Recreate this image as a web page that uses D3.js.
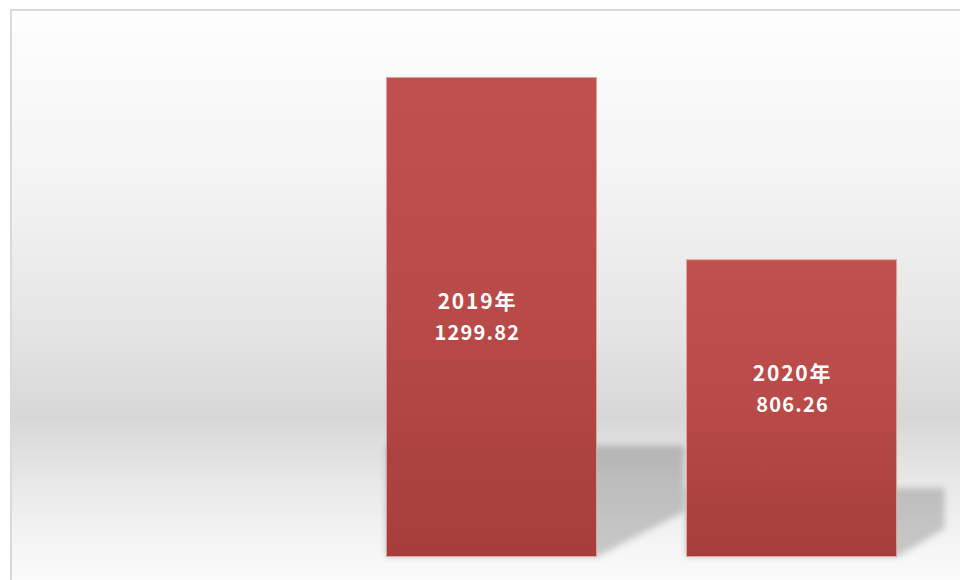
<!DOCTYPE html>
<html>
<head>
<meta charset="utf-8">
<script src="https://cdn.jsdelivr.net/npm/d3@7"></script>
<style>
  html, body { margin: 0; padding: 0; background: #ffffff; }
  svg { display: block; }
</style>
</head>
<body>
<svg id="chart" width="960" height="580"></svg>
<script>
// ---- data ----
const categories = ["2019年", "2020年"];
const values = [1299.82, 806.26];
const valueLabels = ["1299.82", "806.26"];

// ---- layout ----
const W = 960, H = 580;
const svg = d3.select("#chart");
const defs = svg.append("defs");

// background gradient
const bg = defs.append("linearGradient").attr("id", "bgGrad")
  .attr("x1", 0).attr("y1", 0).attr("x2", 0).attr("y2", 1);
[[0, "#fefefe"], [0.3, "#f3f3f3"], [0.55, "#e4e4e4"], [0.69, "#d7d7d7"],
 [0.8, "#e8e8e8"], [0.9, "#f4f4f4"], [1, "#fdfdfd"]].forEach(([o, c]) =>
  bg.append("stop").attr("offset", o).attr("stop-color", c));

// bar gradient
const bgBar = defs.append("linearGradient").attr("id", "barGrad")
  .attr("x1", 0).attr("y1", 0).attr("x2", 0).attr("y2", 1);
[[0, "#c0504d"], [0.5, "#b84a47"], [1, "#a53e3b"]].forEach(([o, c]) =>
  bgBar.append("stop").attr("offset", o).attr("stop-color", c));

// shadow blur
defs.append("filter").attr("id", "blur")
  .attr("x", "-20%").attr("y", "-20%").attr("width", "140%").attr("height", "140%")
  .append("feGaussianBlur").attr("stdDeviation", 3);

// chart area with border
svg.append("rect")
  .attr("x", 11).attr("y", 10).attr("width", W + 10).attr("height", H + 10)
  .attr("fill", "url(#bgGrad)")
  .attr("stroke", "#d9d9d9").attr("stroke-width", 2);

// scales
const x = d3.scaleBand().domain(categories).range([341.5, 941.5])
  .paddingInner(0.2967).paddingOuter(0.148);
const y = d3.scaleLinear().domain([0, 1400]).range([557, 40]);

const data = categories.map((c, i) => ({ c, v: values[i], lbl: valueLabels[i], i }));

// shadows
const base = y(0);
svg.append("g").selectAll("path").data(data).join("path")
  .attr("filter", "url(#blur)")
  .attr("fill", "#000").attr("fill-opacity", 0.19)
  .attr("d", d => {
    const x0 = x(d.c), x1 = x(d.c) + x.bandwidth();
    const h = base - y(d.v);
    const top = base - 0.232 * h;
    const s = 0.22 * h - 18;
    const c = 0.095 * h;
    return `M${x0},${top}L${x1 + s},${top}L${x1 + s},${base - c}L${x1},${base}L${x0},${base}Z`;
  });

// bars
svg.append("g").selectAll("rect").data(data).join("rect")
  .attr("x", d => x(d.c) + 0.5)
  .attr("y", d => y(d.v) + 0.5)
  .attr("width", x.bandwidth() - 1)
  .attr("height", d => base - y(d.v) - 1)
  .attr("fill", "url(#barGrad)")
  .attr("stroke", "#e0a3a1").attr("stroke-width", 1);

// labels
const labelPos = [0.5, 0.435];
const labelShift = [-14, 1];
const lg = svg.append("g")
  .attr("font-family", "'Noto Sans CJK SC', 'Noto Sans', sans-serif")
  .attr("font-weight", "bold").attr("font-size", 20)
  .attr("fill", "#ffffff").attr("text-anchor", "middle");
data.forEach(d => {
  const cx = x(d.c) + x.bandwidth() / 2 + labelShift[d.i];
  const cy = y(d.v) + (base - y(d.v)) * labelPos[d.i];
  lg.append("text").attr("x", cx).attr("y", cy - 8)
    .attr("font-size", 21).attr("letter-spacing", 1.8).text(d.c);
  lg.append("text").attr("x", cx).attr("y", cy + 23)
    .attr("letter-spacing", 1.2).text(d.lbl);
});
</script>
</body>
</html>
